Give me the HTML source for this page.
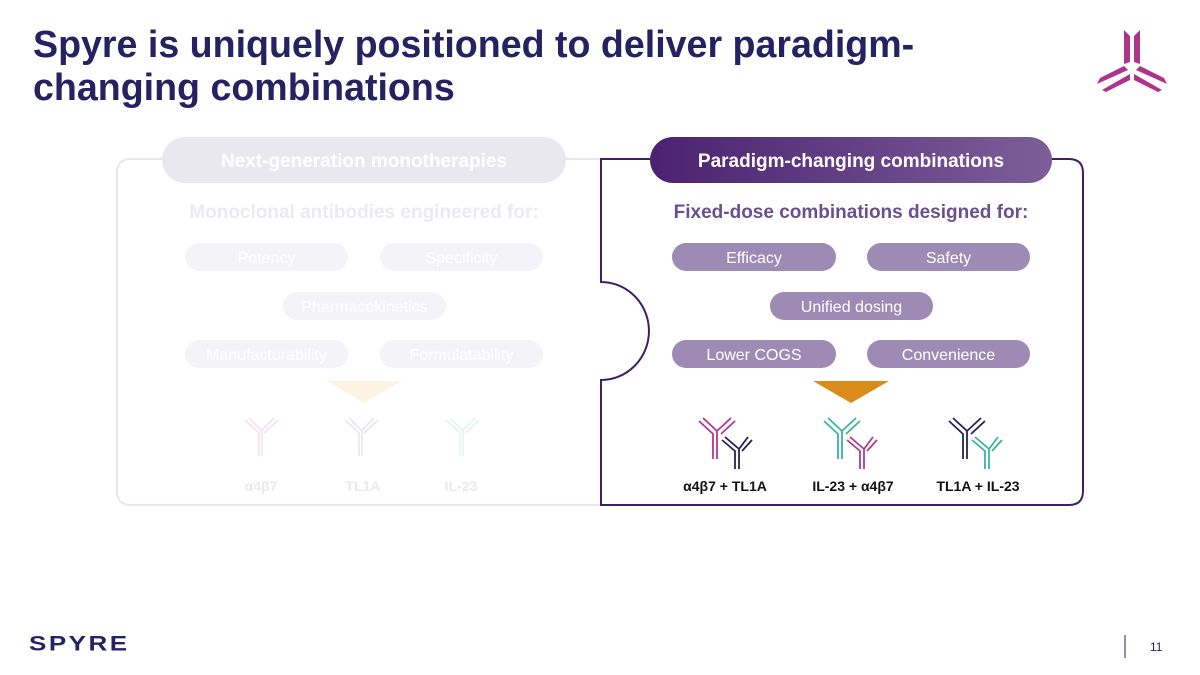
<!DOCTYPE html>
<html><head><meta charset="utf-8"><style>
body{margin:0;width:1200px;height:675px;background:#fff;position:relative;overflow:hidden;font-family:"Liberation Sans",sans-serif}
.t{position:absolute;left:33px;top:23px;font-size:37.6px;font-weight:bold;color:#262262;line-height:43px}
.p{position:absolute;height:28px;border-radius:14px;color:#fff;font-size:16px;text-align:center;line-height:31px}
.r{background:#9e8bb5}.l{background:#f4f3f8}
.h{position:absolute;top:137px;height:46px;border-radius:23px;font-size:19px;font-weight:bold;color:#fff;text-align:center;line-height:49px}
.s{position:absolute;top:202px;font-size:19px;font-weight:bold;text-align:center}
.lb{position:absolute;top:478px;font-size:14px;font-weight:bold;text-align:center;width:140px}
</style></head><body>
<div class="t">Spyre is uniquely positioned to deliver paradigm-<br>changing combinations</div>
<svg width="1200" height="675" style="position:absolute;left:0;top:0">
<path d="M162 159 H131 Q117 159 117 173 V491 Q117 505 131 505 H601" fill="none" stroke="#e8e6ef" stroke-width="2"/>
<path d="M566 159 H601" stroke="#e8e6ef" stroke-width="2"/>
<path d="M650 159 H601 V282 A48 49 0 0 1 601 380 V505 H1069 Q1083 505 1083 491 V173 Q1083 159 1069 159 H1052" fill="none" stroke="#3e1f66" stroke-width="2"/>
<polygon points="813,381 889,381 851,403" fill="#d98c1a"/>
<polygon points="327,381 402,381 364,403" fill="#fcf3e3"/>
<g fill="none" stroke-width="1.6">
<g stroke="#f4e0ec"><path d="M245 420 L259 433 V456 M249 418 L262 431 V456 M278 420 L264 433 M274 418 L261 431"/></g>
<g stroke="#e6e6ee"><path d="M345 420 L359 433 V456 M349 418 L362 431 V456 M378 420 L364 433 M374 418 L361 431"/></g>
<g stroke="#e0f4f1"><path d="M446 420 L460 433 V456 M450 418 L463 431 V456 M479 420 L465 433 M475 418 L462 431"/></g>
</g>
<g fill="none" stroke-width="1.8">
<g stroke="#b03a93"><path d="M699 421 L713 434 V459 M703 418 L717 431 V459 M735 421 L721 434 M731 418 L717 431"/></g>
<g stroke="#262256"><path d="M722 440 L735 451 V469 M725 437 L739 449 V469 M752 440 L742 451 M748 437 L739 449"/></g>
<g stroke="#3ab3a3"><path d="M824 421 L838 434 V459 M828 418 L842 431 V459 M860 421 L846 434 M856 418 L842 431"/></g>
<g stroke="#b03a93"><path d="M847 440 L860 451 V469 M850 437 L864 449 V469 M877 440 L867 451 M873 437 L864 449"/></g>
<g stroke="#262256"><path d="M949 421 L963 434 V459 M953 418 L967 431 V459 M985 421 L971 434 M981 418 L967 431"/></g>
<g stroke="#3ab3a3"><path d="M972 440 L985 451 V469 M975 437 L989 449 V469 M1002 440 L992 451 M998 437 L989 449"/></g>
</g>
<g fill="#b0328f">
<polygon points="1124,30 1130,36 1130,62 1124,64"/><polygon points="1134,36 1140,30 1140,64 1134,62"/>
<polygon points="1097,84 1100,78 1124,66 1128,70"/><polygon points="1102,90 1130,74 1130,80 1106,92"/>
<polygon points="1167,84 1164,78 1140,66 1136,70"/><polygon points="1162,90 1134,74 1134,80 1158,92"/>
</g>
<line x1="1125" y1="635" x2="1125" y2="658" stroke="#262262" stroke-width="1"/>
</svg>
<div class="h" style="left:162px;width:404px;background:#e9e7f0">Next-generation monotherapies</div>
<div class="h" style="left:650px;width:402px;background:linear-gradient(90deg,#4a2270,#7d5e99)">Paradigm-changing combinations</div>
<div class="s" style="left:117px;width:494px;color:#ebe9f1">Monoclonal antibodies engineered for:</div>
<div class="s" style="left:601px;width:500px;color:#6b4f8e">Fixed-dose combinations designed for:</div>
<div class="p l" style="left:185px;top:243px;width:163px">Potency</div>
<div class="p l" style="left:380px;top:243px;width:163px">Specificity</div>
<div class="p l" style="left:283px;top:292px;width:163px">Pharmacokinetics</div>
<div class="p l" style="left:185px;top:340px;width:163px">Manufacturability</div>
<div class="p l" style="left:380px;top:340px;width:163px">Formulatability</div>
<div class="p r" style="left:672px;top:243px;width:164px">Efficacy</div>
<div class="p r" style="left:867px;top:243px;width:163px">Safety</div>
<div class="p r" style="left:770px;top:292px;width:163px">Unified dosing</div>
<div class="p r" style="left:672px;top:340px;width:164px">Lower COGS</div>
<div class="p r" style="left:867px;top:340px;width:163px">Convenience</div>
<div class="lb" style="left:191px;color:#e8e8ee">α4β7</div>
<div class="lb" style="left:293px;color:#e8e8ee">TL1A</div>
<div class="lb" style="left:391px;color:#e8e8ee">IL-23</div>
<div class="lb" style="left:655px;color:#111">α4β7 + TL1A</div>
<div class="lb" style="left:783px;color:#111">IL-23 + α4β7</div>
<div class="lb" style="left:908px;color:#111">TL1A + IL-23</div>
<div style="position:absolute;left:29px;top:628px;font-size:26px;font-weight:bold;color:#262262;letter-spacing:2.5px;transform:scaleY(0.8);transform-origin:left center">SPYRE</div>
<div style="position:absolute;left:1150px;top:640px;font-size:12px;color:#262262">11</div>
</body></html>
